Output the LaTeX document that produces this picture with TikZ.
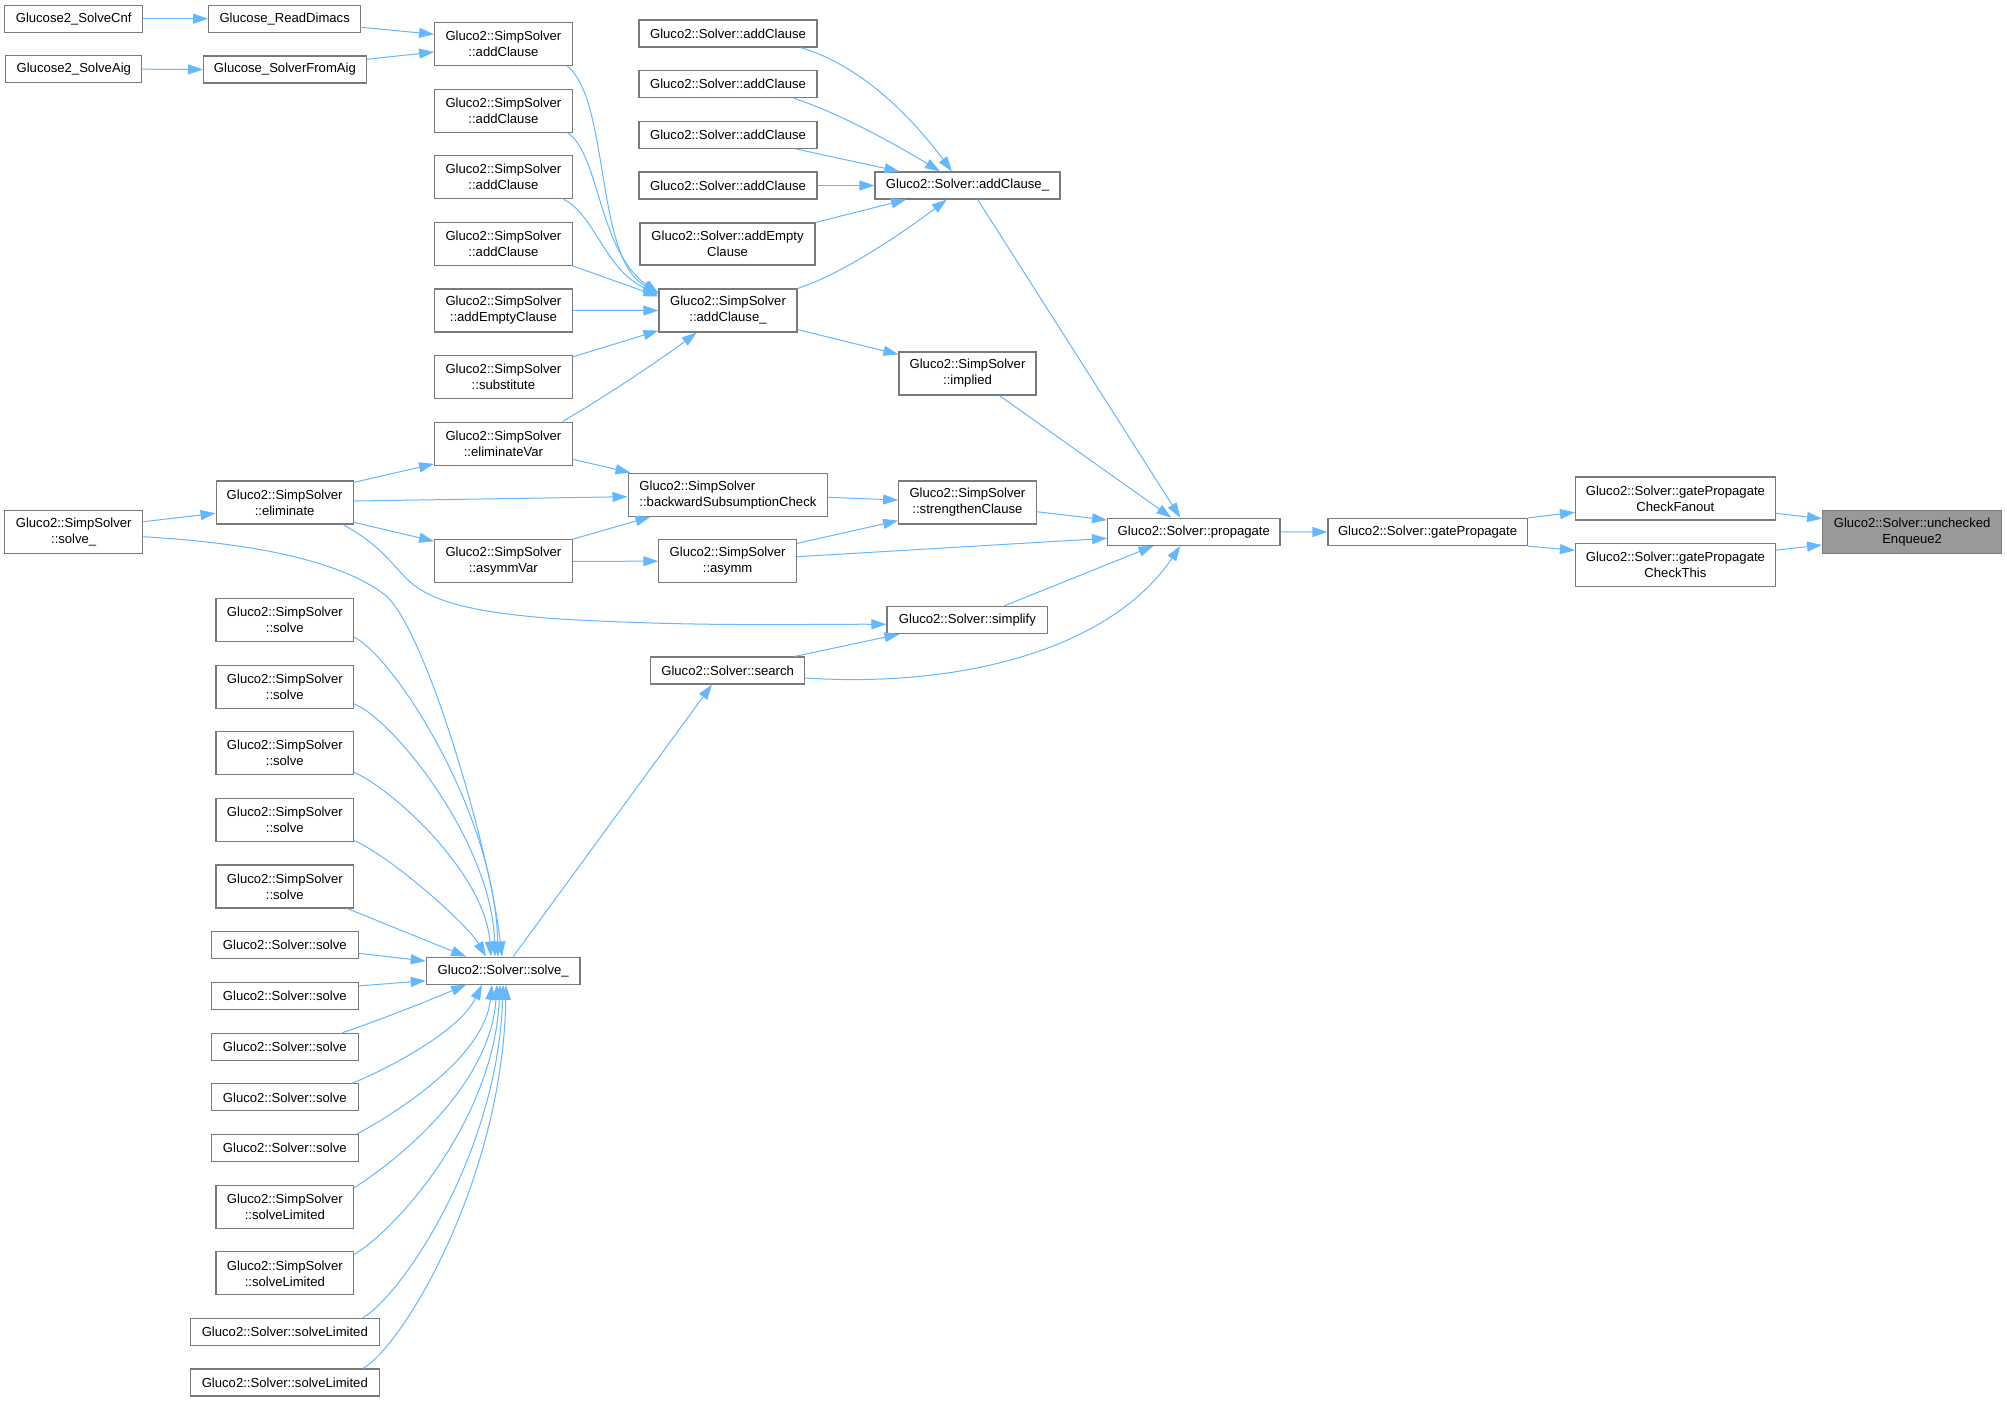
\documentclass[tikz,border=0pt]{standalone}
\usepackage{fontspec}
\setmainfont{Liberation Sans}
\usetikzlibrary{arrows.meta,calc}
\definecolor{edgeblue}{HTML}{63B8FF}
\definecolor{boxgray}{HTML}{7A7A7A}
\definecolor{hlgray}{HTML}{999999}
\tikzset{
  box/.style={draw=boxgray, line width=1.2pt, fill=white, inner sep=0pt, align=center,
    minimum height=27pt, font=\fontsize{13.1}{16}\selectfont},
  box2/.style={box, minimum height=43pt},
  edge/.style={draw=edgeblue, line width=1pt, -{Triangle[length=15pt,width=10pt]}},
}
\begin{document}
\begin{tikzpicture}[x=1pt,y=-1pt]
\useasboundingbox[fill=white] (0,0) rectangle (2007,1401);

% column A
\node[box, minimum width=138pt] (cnf) at (73.7,18.7) {Glucose2\_SolveCnf};
\node[box, minimum width=136pt] (aig) at (73.8,69.2) {Glucose2\_SolveAig};
\node[box2, minimum width=138pt] (ssolveu) at (73.7,531.8) {Gluco2::SimpSolver\\::solve\_};
% column B
\node[box, minimum width=152pt] (rd) at (284.7,18.7) {Glucose\_ReadDimacs};
\node[box, minimum width=162.6pt] (sfa) at (284.9,69.5) {Glucose\_SolverFromAig};
\node[box2, minimum width=137pt] (elim) at (284.6,502.5) {Gluco2::SimpSolver\\::eliminate};
\node[box2, minimum width=137.7pt] (ss1) at (284.8,620) {Gluco2::SimpSolver\\::solve};
\node[box2, minimum width=137.7pt] (ss2) at (284.8,686.6) {Gluco2::SimpSolver\\::solve};
\node[box2, minimum width=137.7pt] (ss3) at (284.8,753.2) {Gluco2::SimpSolver\\::solve};
\node[box2, minimum width=137.7pt] (ss4) at (284.8,819.8) {Gluco2::SimpSolver\\::solve};
\node[box2, minimum width=137.7pt] (ss5) at (284.8,886.4) {Gluco2::SimpSolver\\::solve};
\node[box, minimum width=147pt] (s1) at (284.8,945.2) {Gluco2::Solver::solve};
\node[box, minimum width=147pt] (s2) at (284.8,996) {Gluco2::Solver::solve};
\node[box, minimum width=147pt] (s3) at (284.8,1046.7) {Gluco2::Solver::solve};
\node[box, minimum width=147pt] (s4) at (284.8,1097.3) {Gluco2::Solver::solve};
\node[box, minimum width=147pt] (s5) at (284.8,1148) {Gluco2::Solver::solve};
\node[box2, minimum width=137.7pt] (ssl1) at (284.8,1206.7) {Gluco2::SimpSolver\\::solveLimited};
\node[box2, minimum width=137.7pt] (ssl2) at (284.8,1273.3) {Gluco2::SimpSolver\\::solveLimited};
\node[box, minimum width=188.7pt] (sl1) at (284.8,1331.8) {Gluco2::Solver::solveLimited};
\node[box, minimum width=188.7pt] (sl2) at (284.8,1382.5) {Gluco2::Solver::solveLimited};
% column C
\node[box2, minimum width=137.4pt] (sac1) at (503.4,44) {Gluco2::SimpSolver\\::addClause};
\node[box2, minimum width=137.4pt] (sac2) at (503.4,110.6) {Gluco2::SimpSolver\\::addClause};
\node[box2, minimum width=137.4pt] (sac3) at (503.4,177.2) {Gluco2::SimpSolver\\::addClause};
\node[box2, minimum width=137.4pt] (sac4) at (503.4,243.8) {Gluco2::SimpSolver\\::addClause};
\node[box2, minimum width=137.4pt] (saec) at (503.4,310.4) {Gluco2::SimpSolver\\::addEmptyClause};
\node[box2, minimum width=137.4pt] (subst) at (503.4,377) {Gluco2::SimpSolver\\::substitute};
\node[box2, minimum width=137.4pt] (elimvar) at (503.4,443.6) {Gluco2::SimpSolver\\::eliminateVar};
\node[box2, minimum width=137.4pt] (asymmvar) at (503.4,561.3) {Gluco2::SimpSolver\\::asymmVar};
\node[box, minimum width=153.7pt] (svsolveu) at (503.2,970.7) {Gluco2::Solver::solve\_};
% column D
\node[box, minimum width=178pt] (ac1) at (728,33.5) {Gluco2::Solver::addClause};
\node[box, minimum width=178pt] (ac2) at (728,84.2) {Gluco2::Solver::addClause};
\node[box, minimum width=178pt] (ac3) at (728,134.8) {Gluco2::Solver::addClause};
\node[box, minimum width=178pt] (ac4) at (728,185.5) {Gluco2::Solver::addClause};
\node[box2, minimum width=175pt, minimum height=42pt] (aec) at (727.5,244) {Gluco2::Solver::addEmpty\\Clause};
\node[box2, minimum width=138pt] (sacu) at (728,310.5) {Gluco2::SimpSolver\\::addClause\_};
\node[box2, minimum width=199.6pt, align=left] (bsc) at (727.9,494.7) {Gluco2::SimpSolver\\::backwardSubsumptionCheck};
\node[box2, minimum width=137.5pt] (asymm) at (727.6,561.2) {Gluco2::SimpSolver\\::asymm};
\node[box, minimum width=154.5pt] (search) at (727.6,670.5) {Gluco2::Solver::search};
% column E
\node[box, minimum width=185pt] (acu) at (967.5,185.5) {Gluco2::Solver::addClause\_};
\node[box2, minimum width=137pt] (implied) at (967.5,373.5) {Gluco2::SimpSolver\\::implied};
\node[box2, minimum width=137.4pt] (strengthen) at (967.4,502.5) {Gluco2::SimpSolver\\::strengthenClause};
\node[box, minimum width=160.7pt] (simplify) at (967.4,620) {Gluco2::Solver::simplify};
% right part
\node[box, minimum width=172.3pt] (propagate) at (1193.8,531.8) {Gluco2::Solver::propagate};
\node[box, minimum width=199.3pt] (gp) at (1427.6,532) {Gluco2::Solver::gatePropagate};
\node[box2, minimum width=199.7pt] (gpcf) at (1675.4,498.5) {Gluco2::Solver::gatePropagate\\CheckFanout};
\node[box2, minimum width=199.7pt] (gpct) at (1675.4,565.2) {Gluco2::Solver::gatePropagate\\CheckThis};
\node[box2, minimum width=179pt, fill=hlgray] (ue) at (1912.1,531.8) {Gluco2::Solver::unchecked\\Enqueue2};

% edges: top left
\draw[edge] (cnf.east) -- (rd.west);
\draw[edge] (aig.east) -- (sfa.west);
\draw[edge] ($(rd.east)+(0,8.6)$) -- ($(sac1.west)+(0,-9.7)$);
\draw[edge] ($(sfa.east)+(0,-10.2)$) -- ($(sac1.west)+(0,8)$);
% into SimpSolver::addClause_
\draw[edge] ($(sac1.south east)+(-5.4,0)$) .. controls (610,100) and (595,260) .. ($(sacu.north west)+(0,4)$);
\draw[edge] ($(sac2.south east)+(-5,0)$) .. controls (600,155) and (598,250) .. ($(sacu.north west)+(0,5)$);
\draw[edge] ($(sac3.south east)+(-9,0)$) .. controls (595,215) and (605,270) .. ($(sacu.north west)+(0,6)$);
\draw[edge] (sac4.south east) -- ($(sacu.north west)+(0,8)$);
\draw[edge] (saec.east) -- (sacu.west);
\draw[edge] ($(subst.north east)+(0,2)$) -- ($(sacu.south west)+(0,-2)$);
\draw[edge] ($(elimvar.north east)+(-10.3,0)$) .. controls (600,400) and (660,360) .. ($(sacu.south)+(-31.3,0)$);
% into Solver::addClause_
\draw[edge] ($(ac1.south east)+(-17,0)$) .. controls (860,65) and (910,115) .. ($(acu.north)+(-15.5,0)$);
\draw[edge] ($(ac2.south east)+(-23.7,0)$) .. controls (830,110) and (880,135) .. ($(acu.north)+(-27.5,0)$);
\draw[edge] ($(ac3.south east)+(-22,0)$) -- ($(acu.north west)+(25,0)$);
\draw[edge] (ac4.east) -- (acu.west);
\draw[edge] (aec.north east) -- ($(acu.south west)+(31.7,0)$);
\draw[edge] (sacu.north east) .. controls (840,275) and (900,235) .. ($(acu.south)+(-20.8,0)$);
\draw[edge] ($(sacu.south east)+(0,-3)$) -- ($(implied.north west)+(0,3)$);
% into propagate
\draw[edge] ($(acu.south)+(10.2,0)$) -- ($(propagate.north)+(-13.5,0)$);
\draw[edge] ($(implied.south)+(32,0)$) -- ($(propagate.north)+(-22.4,0)$);
\draw[edge] ($(strengthen.east)+(0,9.2)$) -- ($(propagate.west)+(0,-11.8)$);
\draw[edge] ($(asymm.east)+(0,-4.5)$) -- ($(propagate.west)+(0,6.5)$);
\draw[edge] ($(simplify.north)+(36.6,0)$) -- ($(propagate.south)+(-40.3,0)$);
\draw[edge] ($(search.east)+(0,7.5)$) .. controls (960,688) and (1110,650) .. ($(propagate.south)+(-13.5,0)$);
% right chain
\draw[edge] (propagate.east) -- (gp.west);
\draw[edge] (gp.north east) -- ($(gpcf.south west)+(0,-8.3)$);
\draw[edge] (gp.south east) -- ($(gpct.north west)+(0,7.3)$);
\draw[edge] ($(gpcf.south east)+(0,-7.3)$) -- ($(ue.west)+(0,-13.1)$);
\draw[edge] ($(gpct.north east)+(0,7)$) -- ($(ue.west)+(0,13.2)$);
% middle
\draw[edge] ($(elim.north east)+(0,2)$) -- ($(elimvar.south west)+(0,-1.8)$);
\draw[edge] ($(elim.east)+(0,-1.5)$) -- ($(bsc.west)+(0,2)$);
\draw[edge] ($(elim.south east)+(0,-2.3)$) -- ($(asymmvar.north west)+(0,2)$);
\draw[edge] ($(ssolveu.east)+(0,-10.1)$) -- ($(elim.west)+(0,10.8)$);
\draw[edge] ($(elimvar.east)+(0,15.7)$) -- ($(bsc.north west)+(3,0)$);
\draw[edge] (asymmvar.north east) -- ($(bsc.south west)+(23,0)$);
\draw[edge] (asymmvar.east) -- (asymm.west);
\draw[edge] ($(bsc.east)+(0,2.6)$) -- ($(strengthen.west)+(0,-2.5)$);
\draw[edge] ($(asymm.north east)+(0,4.3)$) -- ($(strengthen.south west)+(0,-4)$);
\draw[edge] ($(search.north east)+(-10.6,0)$) -- ($(simplify.south west)+(13,0)$);
\draw[edge] ($(elim.south east)+(-10.6,0)$) .. controls (380,545) and (390,562) .. (405,577)
   .. controls (425,598) and (460,612) .. (560,619)
   .. controls (700,627) and (800,624) .. ($(simplify.west)+(0,4.3)$);
% into Solver::solve_
\draw[edge] ($(ssolveu.east)+(0,4.9)$) .. controls (250,543) and (340,560) .. (385,595)
   .. controls (425,627) and (490,850) .. ($(svsolveu.north)+(-1.2,0)$);
\draw[edge] ($(ss1.south east)+(0,-4.9)$) .. controls (394,657) and (495,813) .. ($(svsolveu.north)+(-5.2,0)$);
\draw[edge] ($(ss2.south east)+(0,-4.8)$) .. controls (394,720) and (492,843) .. ($(svsolveu.north)+(-8.2,0)$);
\draw[edge] ($(ss3.south east)+(0,-3)$) .. controls (394,790) and (485,874) .. ($(svsolveu.north)+(-12.2,0)$);
\draw[edge] ($(ss4.south east)+(0,-1.3)$) .. controls (393,858) and (468,925) .. ($(svsolveu.north)+(-17.2,0)$);
\draw[edge] ($(ss5.south east)+(-7,0)$) -- ($(svsolveu.north west)+(40.4,0)$);
\draw[edge] ($(s1.east)+(0,8.1)$) -- ($(svsolveu.west)+(0,-9.7)$);
\draw[edge] ($(s2.north east)+(0,4)$) -- ($(svsolveu.west)+(0,10)$);
\draw[edge] ($(s3.north east)+(-16.6,0)$) .. controls (375,1022) and (430,1000) .. ($(svsolveu.south west)+(40.4,0)$);
\draw[edge] ($(s4.north east)+(-6.6,0)$) .. controls (380,1072) and (458,1034) .. ($(svsolveu.south)+(-21.2,0)$);
\draw[edge] ($(s5.north east)+(-1.6,0)$) .. controls (392,1115) and (484,1059) .. ($(svsolveu.south)+(-11.2,0)$);
\draw[edge] ($(ssl1.north east)+(0,3)$) .. controls (398,1160) and (490,1086) .. ($(svsolveu.south)+(-6.2,0)$);
\draw[edge] ($(ssl2.north east)+(0,3.2)$) .. controls (398,1228) and (494,1119) .. ($(svsolveu.south)+(-3.2,0)$);
\draw[edge] ($(sl1.north east)+(-16.8,0)$) .. controls (404,1293) and (498,1151) .. ($(svsolveu.south)+(-0.2,0)$);
\draw[edge] ($(sl2.north east)+(-16.8,0)$) .. controls (405,1344) and (503,1176) .. ($(svsolveu.south)+(2.8,0)$);
\draw[edge] ($(svsolveu.north)+(10,0)$) -- ($(search.south)+(-15.6,0)$);
\end{tikzpicture}
\end{document}
